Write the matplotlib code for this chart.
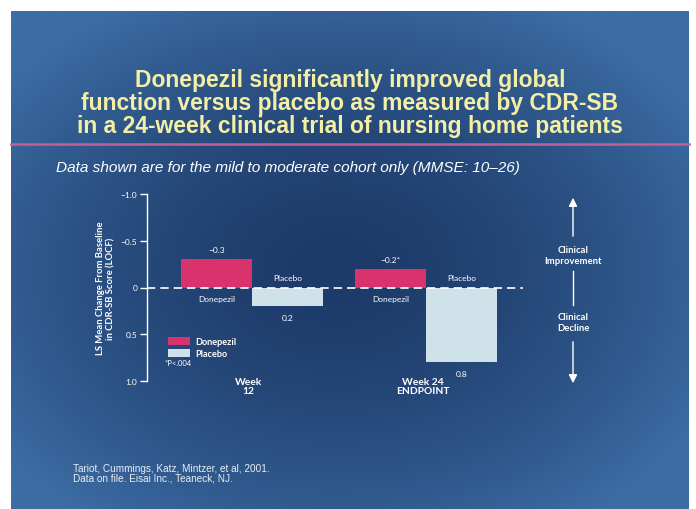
import numpy as np
import matplotlib
matplotlib.use("Agg")
import matplotlib.pyplot as plt
from matplotlib.patches import FancyArrowPatch

# ── Data ──────────────────────────────────────────────────────────────────────
groups = ["Week\n12", "Week 24\nENDPOINT"]
donepezil = [-0.3, -0.2]
placebo = [0.2, 0.8]
donepezil_labels = ["\u22120.3", "\u22120.2*"]
placebo_labels = ["0.2", "0.8"]
yticks = [-1.0, -0.5, 0.0, 0.5, 1.0]
ytick_labels = ["\u22121.0", "\u22120.5", "0", "0.5", "1.0"]

# ── Colours ───────────────────────────────────────────────────────────────────
PINK = "#d8336c"
PALE = "#cfe2ea"
TITLE_YELLOW = "#f4efa6"
DARK_BG = np.array([0x1d, 0x3a, 0x69]) / 255
EDGE_BG = np.array([0x3c, 0x6d, 0xa4]) / 255

W, H = 696, 510
fig = plt.figure(figsize=(W / 100, H / 100), dpi=100)
fig.patch.set_facecolor("white")


def fx(px):
    return px / W


def fy(py):
    return 1 - py / H


# ── Slide background with a soft vignette ─────────────────────────────────────
bg = fig.add_axes([fx(11), 0, fx(689) - fx(11), fy(12)])
bg.set_axis_off()
yy, xx = np.mgrid[0:1:300j, 0:1:400j]
d = np.sqrt(((xx - 0.48) / 0.62) ** 2 + ((yy - 0.52) / 0.62) ** 2)
d = np.clip(d, 0, 1) ** 1.6
img = DARK_BG[None, None, :] * (1 - d[..., None]) + EDGE_BG[None, None, :] * d[..., None]
bg.imshow(img, aspect="auto", extent=[0, 1, 0, 1], interpolation="bilinear")
bg.set_xlim(0, 1)
bg.set_ylim(0, 1)

# ── Title block ───────────────────────────────────────────────────────────────
title = ("Donepezil significantly improved global\n"
         "function versus placebo as measured by CDR-SB\n"
         "in a 24-week clinical trial of nursing home patients")
fig.text(fx(350), fy(104), title, ha="center", va="center", color=TITLE_YELLOW,
         fontsize=16.5, fontweight="bold", family="Liberation Sans",
         linespacing=1.0)
fig.add_artist(plt.Line2D([fx(11), fx(689)], [fy(145), fy(145)],
                          color="#c45f94", linewidth=1.8))
fig.text(fx(56), fy(168),
         "Data shown are for the mild to moderate cohort only (MMSE: 10\u201326)",
         ha="left", va="center", color="white", fontsize=11.1, style="italic",
         family="Liberation Sans")

# ── Chart ─────────────────────────────────────────────────────────────────────
ax = fig.add_axes([fx(147), fy(382), fx(523) - fx(147), fy(195) - fy(382)])
ax.patch.set_alpha(0)
x = np.arange(len(groups))
bw = 0.408
ax.bar(x - bw / 2, donepezil, bw, color=PINK, zorder=2, label="Donepezil")
ax.bar(x + bw / 2, placebo, bw, color=PALE, zorder=2, label="Placebo")
ax.axhline(0, color="white", linewidth=1.2, dashes=(5, 3), zorder=3)

ax.set_xlim(-0.603, 1.557)
ax.set_ylim(1.0, -1.0)
ax.set_yticks(yticks)
ax.set_yticklabels(ytick_labels)
ax.set_xticks([])
for side in ("top", "right", "bottom"):
    ax.spines[side].set_visible(False)
ax.spines["left"].set_color("white")
ax.spines["left"].set_linewidth(1.0)
ax.tick_params(axis="y", colors="white", labelsize=6, length=5, width=1.0, pad=2)
for lbl in ax.get_yticklabels():
    lbl.set_family("Lato")

ax.set_ylabel("LS Mean Change From Baseline\nin CDR-SB Score (LOCF)", color="white",
              fontsize=6.8, fontweight="bold", family="Lato", labelpad=4,
              linespacing=1.1)

lab = dict(color="white", fontsize=6, family="Lato", ha="center", va="center",
           textcoords="offset points", annotation_clip=False)
for i in range(len(groups)):
    xd, xp = x[i] - bw / 2, x[i] + bw / 2
    ax.annotate(donepezil_labels[i], (xd, donepezil[i]), xytext=(0, 7), **lab)
    ax.annotate("Donepezil", (xd, 0), xytext=(0, -8), **lab)
    ax.annotate("Placebo", (xp, 0), xytext=(0, 7), **lab)
    ax.annotate(placebo_labels[i], (xp, placebo[i]), xytext=(0, -8), **lab)
    # week label sits just under the axis end
    ax.text(x[i] - 0.02, 1.055, groups[i], color="white", fontsize=7.4,
            fontweight="bold", family="Lato", ha="center", va="center",
            linespacing=1.0, clip_on=False)

leg = ax.legend(loc="upper left", bbox_to_anchor=(fx(160), fy(330)),
                bbox_transform=fig.transFigure, frameon=False,
                handlelength=2.4, handleheight=0.9, labelspacing=0.35,
                handletextpad=0.5, prop={"family": "Lato", "size": 6.6, "weight": "bold"})
for t in leg.get_texts():
    t.set_color("white")
fig.text(fx(165), fy(364), "*P<.004", color="white", fontsize=5.5, family="Lato",
         ha="left", va="center")

# ── Improvement / decline arrow ───────────────────────────────────────────────
ax_x = 573
fig.add_artist(FancyArrowPatch(
    (fx(ax_x), fy(240)), (fx(ax_x), fy(196)), transform=fig.transFigure,
    arrowstyle="-|>,head_length=5,head_width=2.5", color="white", linewidth=1.0))
fig.add_artist(plt.Line2D([fx(ax_x), fx(ax_x)], [fy(272), fy(306)],
                          color="white", linewidth=1.0))
fig.add_artist(FancyArrowPatch(
    (fx(ax_x), fy(340)), (fx(ax_x), fy(387)), transform=fig.transFigure,
    arrowstyle="-|>,head_length=5,head_width=2.5", color="white", linewidth=1.0))
fig.text(fx(ax_x), fy(256), "Clinical\nImprovement", color="white", fontsize=6.8,
         fontweight="bold", family="Lato", ha="center", va="center", linespacing=1.15)
fig.text(fx(ax_x), fy(323), "Clinical\nDecline", color="white", fontsize=6.8,
         fontweight="bold", family="Lato", ha="center", va="center", linespacing=1.15)

# ── Reference ─────────────────────────────────────────────────────────────────
fig.text(fx(73), fy(474),
         "Tariot, Cummings, Katz, Mintzer, et al, 2001.\nData on file. Eisai Inc., Teaneck, NJ.",
         color="#e8eef5", fontsize=7.2, family="Liberation Sans", ha="left",
         va="center", linespacing=1.0)

fig.savefig("out.png", dpi=100, facecolor=fig.get_facecolor())
